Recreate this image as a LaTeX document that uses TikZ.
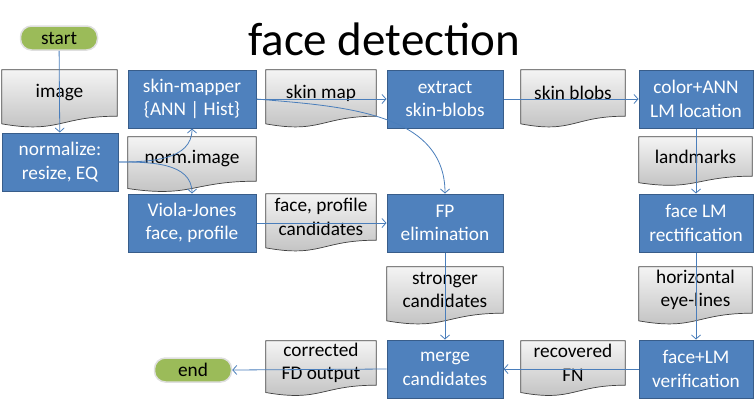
\documentclass[tikz,border=0pt]{standalone}
\usepackage{fontspec}
\setmainfont{Carlito}
\usetikzlibrary{calc,arrows.meta,backgrounds}
\definecolor{boxFill}{HTML}{4F81BD}
\definecolor{boxLine}{HTML}{385D8A}
\definecolor{arrCol}{HTML}{4A7EBB}
\definecolor{pillFill}{HTML}{9BBB59}
\definecolor{docTop}{HTML}{F4F4F4}
\definecolor{docBot}{HTML}{BEBEBE}
\definecolor{docLine}{HTML}{404040}
\newcommand\docwave[1]{%
  \shadedraw[top color=docTop,bottom color=docBot,draw=docLine,line width=0.7pt]
   let \p1=(#1.north), \p2=(#1.south), \n1={\y1-\y2} in
   (#1.north west) -- (#1.north east) -- (#1.south east)
   .. controls (#1.south) and ($(#1.south)+(0pt,-0.38*\n1)$) ..
   ($(#1.south west)+(0pt,-0.165*\n1)$) -- cycle;}
\begin{document}
\begin{tikzpicture}[x=1pt,y=-1pt,
  txt/.style={font=\fontsize{19.3}{23.5}\selectfont,align=center,inner sep=0pt},
  procbox/.style={txt,draw=boxLine,fill=boxFill,text=white,line width=1pt,minimum height=58pt},
  docbox/.style={txt,text=black},
  pill/.style={txt,fill=pillFill,draw=gray!25,line width=1.5pt,rounded corners=11pt,minimum width=77pt,minimum height=24pt},
  arr/.style={draw=arrCol,line width=0.8pt,-{Straight Barb[length=4pt,width=9pt]}}]
\useasboundingbox (0,0) rectangle (754,400);
\node[font=\fontsize{47}{52}\selectfont,inner sep=0pt] (title) at (384,39) {face detection};
% pills
\node[pill] (start) at (59,38) {start};
\node[pill] (end) at (193,370) {end};
% process boxes
\node[procbox,minimum width=116pt] (norm) at (60,162) {normalize:\\resize, EQ};
\node[procbox,minimum width=128pt] (skinm) at (192,99) {skin-mapper\\\{ANN | Hist\}};
\node[procbox,minimum width=128pt] (viola) at (192,223) {Viola-Jones\\face, profile};
\node[procbox,minimum width=116pt] (extract) at (445,99) {extract\\skin-blobs};
\node[procbox,minimum width=114pt] (color) at (696,99) {color+ANN\\LM location};
\node[procbox,minimum width=114pt] (rect) at (696,223) {face LM\\rectification};
\node[procbox,minimum width=116pt] (fp) at (445,223) {FP\\elimination};
\node[procbox,minimum width=116pt] (merge) at (445,369) {merge\\candidates};
\node[procbox,minimum width=114pt] (verif) at (696,369) {face+LM\\verification};
% documents
\node[docbox,minimum width=115pt,minimum height=46pt] (image) at (59.5,93) {image};
\node[docbox,minimum width=128pt,minimum height=44pt] (normimg) at (192,159) {norm.image};
\node[docbox,minimum width=110pt,minimum height=46pt] (skinmap) at (321,93) {skin map};
\node[docbox,minimum width=104pt,minimum height=46pt] (skinblobs) at (573,93) {skin blobs};
\node[docbox,minimum width=113pt,minimum height=39pt] (landmarks) at (695.5,156.5) {landmarks};
\node[docbox,minimum width=110pt,minimum height=46pt] (fpcand) at (321,217) {face, profile\\candidates};
\node[docbox,minimum width=116pt,minimum height=46pt] (stronger) at (445,290) {stronger\\candidates};
\node[docbox,minimum width=113pt,minimum height=46pt] (horiz) at (695.5,290) {horizontal\\eye-lines};
\node[docbox,minimum width=104pt,minimum height=44pt] (recov) at (573,363) {recovered\\FN};
\node[docbox,minimum width=110pt,minimum height=44pt] (corr) at (321,363) {corrected\\FD output};
\begin{scope}[on background layer]
\foreach \d in {image,normimg,skinmap,skinblobs,landmarks,fpcand,stronger,horiz,recov,corr}{\docwave{\d}}
\end{scope}
% connectors
\draw[arr] (start) -- (norm);
\draw[arr] (norm.east) to[out=0,in=-90] (skinm.south);
\draw[arr] (norm.east) to[out=0,in=90] (viola.north);
\draw[arr] (skinm.east) -- (extract.west);
\draw[arr] (skinm.east) to[out=-5,in=90] (fp.north);
\draw[arr] (extract.east) -- (color.west);
\draw[arr] (color.south) -- (rect.north);
\draw[arr] (rect.south) -- (verif.north);
\draw[arr] (viola.east) -- (fp.west);
\draw[arr] (fp.south) -- (merge.north);
\draw[arr] (verif.west) -- (merge.east);
\draw[arr] (merge.west) -- (end.east);
\end{tikzpicture}
\end{document}
